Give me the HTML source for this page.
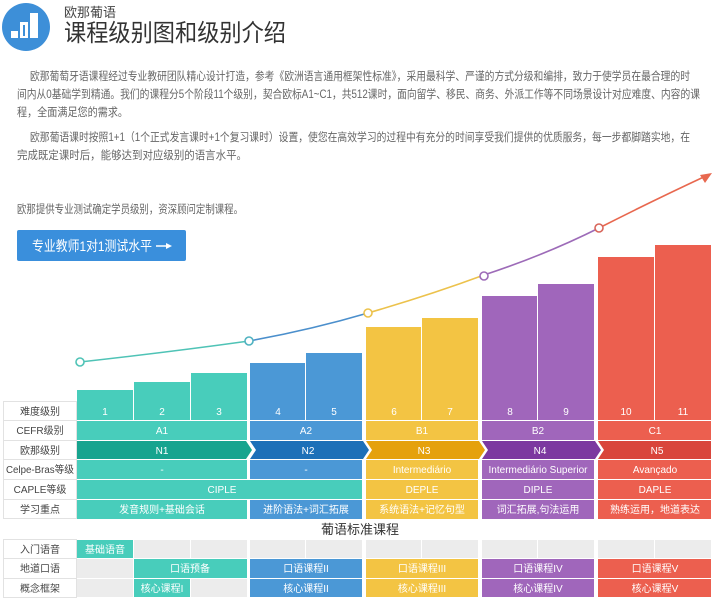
<!DOCTYPE html>
<html><head><meta charset="utf-8"><style>
html,body{margin:0;padding:0;background:#fff;}
svg{display:block;}
text{font-family:"Liberation Sans","Noto Sans CJK SC",sans-serif;}
</style></head><body>
<svg width="720" height="607" viewBox="0 0 720 607" xmlns="http://www.w3.org/2000/svg">
<circle cx="26" cy="27" r="24" fill="#3d8fd8"/>
<rect x="11" y="31" width="7" height="7" fill="#fff"/>
<rect x="20" y="22" width="8" height="16" fill="#fff"/>
<rect x="23" y="25" width="2" height="11" fill="#3d8fd8"/>
<rect x="30" y="13" width="8" height="25" fill="#fff"/>
<text x="64" y="17" font-size="13" fill="#444">欧那葡语</text>
<text x="64" y="41" font-size="24" fill="#333" textLength="222" lengthAdjust="spacingAndGlyphs">课程级别图和级别介绍</text>
<g font-size="11.5" fill="#666">
<text x="30" y="80" textLength="660" lengthAdjust="spacingAndGlyphs">欧那葡萄牙语课程经过专业教研团队精心设计打造，参考《欧洲语言通用框架性标准》，采用最科学、严谨的方式分级和编排，致力于使学员在最合理的时</text>
<text x="17" y="98" textLength="683" lengthAdjust="spacingAndGlyphs">间内从0基础学到精通。我们的课程分5个阶段11个级别，契合欧标A1~C1，共512课时，面向留学、移民、商务、外派工作等不同场景设计对应难度、内容的课</text>
<text x="17" y="116" textLength="111" lengthAdjust="spacingAndGlyphs">程，全面满足您的需求。</text>
<text x="30" y="141" textLength="660" lengthAdjust="spacingAndGlyphs">欧那葡语课时按照1+1（1个正式发言课时+1个复习课时）设置，使您在高效学习的过程中有充分的时间享受我们提供的优质服务，每一步都脚踏实地，在</text>
<text x="17" y="159" textLength="230" lengthAdjust="spacingAndGlyphs">完成既定课时后，能够达到对应级别的语言水平。</text>
<text x="17" y="213" textLength="226" lengthAdjust="spacingAndGlyphs">欧那提供专业测试确定学员级别，资深顾问定制课程。</text>
</g>
<rect x="17" y="230" width="169" height="31" rx="2" fill="#3a8fdc"/>
<text x="32" y="251" font-size="14" fill="#fff" textLength="120" lengthAdjust="spacingAndGlyphs">专业教师1对1测试水平</text>
<line x1="156" y1="246" x2="169" y2="246" stroke="#fff" stroke-width="1.5"/>
<polygon points="172,246 166,243 166,249" fill="#fff"/>
<g>
<rect x="77" y="390" width="56" height="11" fill="#48cdbb"/>
<rect x="134" y="382" width="56" height="19" fill="#48cdbb"/>
<rect x="191" y="373" width="56" height="28" fill="#48cdbb"/>
<rect x="250" y="363" width="55" height="38" fill="#4b98d6"/>
<rect x="306" y="353" width="56" height="48" fill="#4b98d6"/>
<rect x="366" y="327" width="55" height="74" fill="#f3c443"/>
<rect x="422" y="318" width="56" height="83" fill="#f3c443"/>
<rect x="482" y="296" width="55" height="105" fill="#a066bb"/>
<rect x="538" y="284" width="56" height="117" fill="#a066bb"/>
<rect x="598" y="257" width="56" height="144" fill="#ec5f4f"/>
<rect x="655" y="245" width="56" height="156" fill="#ec5f4f"/>
</g>
<g fill="none" stroke-width="1.6">
<path d="M80 362 Q170 352 249 341" stroke="#4fc3b6"/>
<path d="M249 341 Q310 330 368 313" stroke="#4b8fcc"/>
<path d="M368 313 Q430 295 484 275" stroke="#ecc24c"/>
<path d="M484 275 Q545 255 599 228" stroke="#9d6bb8"/>
<path d="M599 228 Q650 202 708 175" stroke="#e8684f"/>
</g>
<polygon points="712,173 700,175 705,183" fill="#e8684f"/>
<g fill="#fff" stroke-width="1.6">
<circle cx="80" cy="362" r="4" stroke="#4fc3b6"/>
<circle cx="249" cy="341" r="4" stroke="#4fb2c0"/>
<circle cx="368" cy="313" r="4" stroke="#ecc24c"/>
<circle cx="484" cy="276" r="4" stroke="#9d6bb8"/>
<circle cx="599" cy="228" r="4" stroke="#d8655a"/>
</g>
<g stroke="#e2e2e2" fill="#fff">
<rect x="3.5" y="401.5" width="73" height="117"/>
<line x1="3" y1="420.5" x2="77" y2="420.5"/><line x1="3" y1="440.5" x2="77" y2="440.5"/>
<line x1="3" y1="459.5" x2="77" y2="459.5"/><line x1="3" y1="479.5" x2="77" y2="479.5"/>
<line x1="3" y1="499.5" x2="77" y2="499.5"/>
<rect x="3.5" y="539.5" width="73" height="58"/>
<line x1="3" y1="558.5" x2="77" y2="558.5"/><line x1="3" y1="578.5" x2="77" y2="578.5"/>
</g>
<g font-size="10" fill="#444" text-anchor="middle">
<text x="40" y="415">难度级别</text><text x="40" y="434">CEFR级别</text><text x="40" y="454">欧那级别</text>
<text x="40" y="473" textLength="68" lengthAdjust="spacingAndGlyphs">Celpe-Bras等级</text><text x="40" y="493">CAPLE等级</text><text x="40" y="513">学习重点</text>
<text x="40" y="553">入门语音</text><text x="40" y="572">地道口语</text><text x="40" y="592">概念框架</text>
</g>
<g>
<rect x="77" y="401" width="56" height="19" fill="#48cdbb"/><rect x="134" y="401" width="56" height="19" fill="#48cdbb"/><rect x="191" y="401" width="56" height="19" fill="#48cdbb"/>
<rect x="250" y="401" width="55" height="19" fill="#4b98d6"/><rect x="306" y="401" width="56" height="19" fill="#4b98d6"/>
<rect x="366" y="401" width="55" height="19" fill="#f3c443"/><rect x="422" y="401" width="56" height="19" fill="#f3c443"/>
<rect x="482" y="401" width="55" height="19" fill="#a066bb"/><rect x="538" y="401" width="56" height="19" fill="#a066bb"/>
<rect x="598" y="401" width="56" height="19" fill="#ec5f4f"/><rect x="655" y="401" width="56" height="19" fill="#ec5f4f"/>
<rect x="77" y="421" width="170" height="19" fill="#48cdbb"/><rect x="250" y="421" width="112" height="19" fill="#4b98d6"/>
<rect x="366" y="421" width="112" height="19" fill="#f3c443"/><rect x="482" y="421" width="112" height="19" fill="#a066bb"/><rect x="598" y="421" width="113" height="19" fill="#ec5f4f"/>
<polygon points="77,441 246,441 252,450 246,459 77,459" fill="#17a48f"/>
<polygon points="250,441 363,441 369,450 363,459 250,459 256,450" fill="#1d70b8"/>
<polygon points="366,441 479,441 485,450 479,459 366,459 372,450" fill="#e5a10d"/>
<polygon points="482,441 595,441 601,450 595,459 482,459 488,450" fill="#7c38a0"/>
<polygon points="598,441 711,441 711,459 598,459 604,450" fill="#d9453b"/>
<rect x="77" y="460" width="170" height="19" fill="#48cdbb"/><rect x="250" y="460" width="112" height="19" fill="#4b98d6"/>
<rect x="366" y="460" width="112" height="19" fill="#f3c443"/><rect x="482" y="460" width="112" height="19" fill="#a066bb"/><rect x="598" y="460" width="113" height="19" fill="#ec5f4f"/>
<rect x="77" y="480" width="285" height="19" fill="#48cdbb"/>
<rect x="366" y="480" width="112" height="19" fill="#f3c443"/><rect x="482" y="480" width="112" height="19" fill="#a066bb"/><rect x="598" y="480" width="113" height="19" fill="#ec5f4f"/>
<rect x="77" y="500" width="170" height="19" fill="#48cdbb"/><rect x="250" y="500" width="112" height="19" fill="#4b98d6"/>
<rect x="366" y="500" width="112" height="19" fill="#f3c443"/><rect x="482" y="500" width="112" height="19" fill="#a066bb"/><rect x="598" y="500" width="113" height="19" fill="#ec5f4f"/>
</g>
<g font-size="10" fill="#fff" text-anchor="middle">
<text x="105" y="415">1</text><text x="162" y="415">2</text><text x="219" y="415">3</text>
<text x="278" y="415">4</text><text x="334" y="415">5</text><text x="394" y="415">6</text><text x="450" y="415">7</text>
<text x="510" y="415">8</text><text x="566" y="415">9</text><text x="626" y="415">10</text><text x="683" y="415">11</text>
<text x="162" y="434">A1</text><text x="306" y="434">A2</text><text x="422" y="434">B1</text><text x="538" y="434">B2</text><text x="655" y="434">C1</text>
<text x="162" y="454">N1</text><text x="308" y="454">N2</text><text x="424" y="454">N3</text><text x="540" y="454">N4</text><text x="657" y="454">N5</text>
<text x="162" y="473">-</text><text x="306" y="473">-</text><text x="422" y="473">Intermediário</text><text x="538" y="473">Intermediário Superior</text><text x="655" y="473">Avançado</text>
<text x="222" y="493">CIPLE</text><text x="422" y="493">DEPLE</text><text x="538" y="493">DIPLE</text><text x="655" y="493">DAPLE</text>
<text x="162" y="513">发音规则+基础会话</text><text x="306" y="513">进阶语法+词汇拓展</text><text x="422" y="513">系统语法+记忆句型</text><text x="538" y="513">词汇拓展,句法运用</text><text x="655" y="513">熟练运用，地道表达</text>
</g>
<text x="360" y="534" font-size="13" fill="#333" text-anchor="middle">葡语标准课程</text>
<g fill="#ececec">
<rect x="134" y="540" width="56" height="18"/><rect x="191" y="540" width="56" height="18"/>
<rect x="250" y="540" width="55" height="18"/><rect x="306" y="540" width="56" height="18"/>
<rect x="366" y="540" width="55" height="18"/><rect x="422" y="540" width="56" height="18"/>
<rect x="482" y="540" width="55" height="18"/><rect x="538" y="540" width="56" height="18"/>
<rect x="598" y="540" width="56" height="18"/><rect x="655" y="540" width="56" height="18"/>
<rect x="77" y="559" width="56" height="19"/><rect x="77" y="579" width="56" height="18"/><rect x="191" y="579" width="56" height="18"/>
</g>
<rect x="77" y="540" width="56" height="18" fill="#48cdbb"/>
<rect x="134" y="559" width="113" height="19" fill="#48cdbb"/>
<rect x="134" y="579" width="56" height="18" fill="#48cdbb"/>
<rect x="250" y="559" width="112" height="19" fill="#4b98d6"/><rect x="250" y="579" width="112" height="18" fill="#4b98d6"/>
<rect x="366" y="559" width="112" height="19" fill="#f3c443"/><rect x="366" y="579" width="112" height="18" fill="#f3c443"/>
<rect x="482" y="559" width="112" height="19" fill="#a066bb"/><rect x="482" y="579" width="112" height="18" fill="#a066bb"/>
<rect x="598" y="559" width="113" height="19" fill="#ec5f4f"/><rect x="598" y="579" width="113" height="18" fill="#ec5f4f"/>
<g font-size="10" fill="#fff" text-anchor="middle">
<text x="105" y="553">基础语音</text><text x="190" y="572">口语预备</text><text x="162" y="592">核心课程I</text>
<text x="306" y="572">口语课程II</text><text x="306" y="592">核心课程II</text>
<text x="422" y="572">口语课程III</text><text x="422" y="592">核心课程III</text>
<text x="538" y="572">口语课程IV</text><text x="538" y="592">核心课程IV</text>
<text x="655" y="572">口语课程V</text><text x="655" y="592">核心课程V</text>
</g>
</svg>
</body></html>
